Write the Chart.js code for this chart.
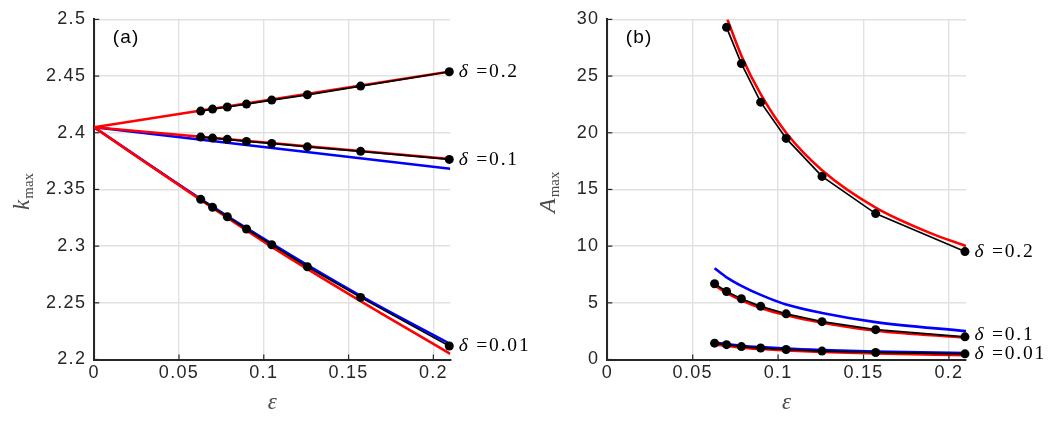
<!DOCTYPE html>
<html><head><meta charset="utf-8">
<script src="https://cdn.jsdelivr.net/npm/chart.js@4.4.0/dist/chart.umd.min.js"></script>
<style>
html,body{margin:0;padding:0;background:#fff;overflow:hidden;}
#wrap{position:relative;width:1048px;height:421px;background:#fff;}
.pane{position:absolute;top:0;height:421px;}
</style></head><body>
<div id="wrap">
<div class="pane" style="left:0;width:560px;z-index:1"><canvas id="c1" width="560" height="421"></canvas></div>
<div class="pane" style="left:524px;width:524px;z-index:2"><canvas id="c2" width="524" height="421"></canvas></div>
</div>
<script>
// ---------- shared x data ----------
const epsPoints = [0.0628, 0.0698, 0.0785, 0.0898, 0.1047, 0.1257, 0.1571, 0.2094];
const xTicks = [0, 0.05, 0.1, 0.15, 0.2];
const xTickLabels = ['0', '0.05', '0.1', '0.15', '0.2'];

// ---------- panel (a): k_max ----------
const kTicks = [2.2, 2.25, 2.3, 2.35, 2.4, 2.45, 2.5];
const kTickLabels = ['2.2', '2.25', '2.3', '2.35', '2.4', '2.45', '2.5'];
const kNum02  = [2.4191, 2.4209, 2.4227, 2.4253, 2.4288, 2.4335, 2.4412, 2.4538];
const kNum01  = [2.3962, 2.3953, 2.3942, 2.3924, 2.3906, 2.3876, 2.3836, 2.3765];
const kNum001 = [2.3413, 2.3342, 2.3259, 2.3151, 2.3012, 2.2818, 2.2548, 2.2119];
const kLineEps = [0, 0.21];
const kRed02  = [2.4048, 2.4540];
const kRed01  = [2.4048, 2.3768];
const kBlue01 = [2.4048, 2.3682];
const kRed001Eps = [0, 0.0615, 0.1047, 0.1687, 0.21];
const kRed001    = [2.4048, 2.3421, 2.2994, 2.2412, 2.2050];
const kBlue001Eps = [0, 0.0628, 0.1047, 0.1571, 0.21];
const kBlue001    = [2.4048, 2.3416, 2.3022, 2.2561, 2.2136];

// ---------- panel (b): A_max ----------
const aTicks = [0, 5, 10, 15, 20, 25, 30];
const aTickLabels = ['0', '5', '10', '15', '20', '25', '30'];
const aNum02Eps = [0.0698, 0.0785, 0.0898, 0.1047, 0.1257, 0.1571, 0.2094];
const aNum02  = [29.3, 26.1, 22.7, 19.5, 16.15, 12.87, 9.52];
const aNum01  = [6.68, 6.0, 5.36, 4.69, 4.03, 3.34, 2.63, 2.0];
const aNum001 = [1.44, 1.31, 1.14, 1.01, 0.88, 0.74, 0.62, 0.5];
const aRed02Eps = [0.0703, 0.0785, 0.0898, 0.1047, 0.1257, 0.1571, 0.19, 0.21];
const aRed02    = [30.0, 26.8, 23.4, 20.0, 16.7, 13.4, 11.1, 10.0];
const aCurveEps = [0.0628, 0.0698, 0.0785, 0.0898, 0.1047, 0.1257, 0.1571, 0.21];
const aRed01    = [6.55, 5.88, 5.22, 4.55, 3.9, 3.25, 2.55, 1.93];
const aBlue01   = [8.05, 7.25, 6.5, 5.7, 4.85, 4.1, 3.3, 2.5];
const aRed001   = [1.33, 1.21, 1.05, 0.92, 0.79, 0.66, 0.53, 0.38];
const aBlue001  = [1.48, 1.37, 1.22, 1.09, 0.96, 0.84, 0.71, 0.57];

const RED = '#ff0000', BLUE = '#0000ff', BLACK = '#000000';
const AXIS = '#262626';
const SANS = '"Liberation Sans", Arial, Helvetica, sans-serif';
const SERIF = '"Liberation Serif", "Times New Roman", serif';
const TICK_SPACING = '1.3px';

function pts(xs, ys) { return xs.map((x, i) => ({ x: x, y: ys[i] })); }
function curve(xs, ys, color, order, smooth) {
  return { data: pts(xs, ys), borderColor: color, backgroundColor: color, borderWidth: 2.6,
    pointRadius: 0, order: order, fill: false, tension: 0,
    cubicInterpolationMode: smooth ? 'monotone' : 'default' };
}
function numeric(xs, ys) {
  return { data: pts(xs, ys), borderColor: BLACK, backgroundColor: BLACK, borderWidth: 1.7,
    pointRadius: 4.5, pointBackgroundColor: BLACK, pointBorderWidth: 0, order: 1, clip: false, fill: false };
}

const annot = {
  id: 'annot',
  beforeUpdate(chart) { chart.ctx.letterSpacing = TICK_SPACING; },
  beforeLayout(chart) { chart.ctx.letterSpacing = TICK_SPACING; },
  beforeDraw(chart) { chart.ctx.letterSpacing = TICK_SPACING; },
  afterDraw(chart) {
    const o = chart.options.plugins.annot;
    const ctx = chart.ctx, xs = chart.scales.x, ys = chart.scales.y, ca = chart.chartArea;
    ctx.save();
    ctx.letterSpacing = '0px';
    // inward tick marks
    ctx.strokeStyle = AXIS; ctx.lineWidth = 1.2;
    xTicks.forEach(v => { const p = xs.getPixelForValue(v); ctx.beginPath(); ctx.moveTo(p, ca.bottom); ctx.lineTo(p, ca.bottom - 5); ctx.stroke(); });
    o.yTicks.forEach(v => { const p = ys.getPixelForValue(v); ctx.beginPath(); ctx.moveTo(ca.left, p); ctx.lineTo(ca.left + 5, p); ctx.stroke(); });
    // panel label
    ctx.fillStyle = '#000';
    ctx.textBaseline = 'middle'; ctx.textAlign = 'left';
    ctx.letterSpacing = '1.2px';
    ctx.font = '19px ' + SANS;
    ctx.fillText(o.panel, ca.left + 18.5, 38);
    // delta labels
    ctx.letterSpacing = '1.8px';
    o.deltas.forEach(d => {
      const px = xs.getPixelForValue(d.x) + 9.5;
      const py = ys.getPixelForValue(d.y) + (d.dy || 0);
      ctx.font = 'italic 19.5px ' + SERIF;
      ctx.fillText('\u03B4', px, py);
      const w = ctx.measureText('\u03B4').width;
      ctx.font = '19.5px ' + SERIF;
      ctx.fillText(' =' + d.v, px + w, py);
    });
    // x axis title (epsilon)
    ctx.letterSpacing = '0px';
    ctx.fillStyle = '#4a4a4a';
    ctx.textAlign = 'center'; ctx.textBaseline = 'alphabetic';
    ctx.font = 'italic 23px ' + SERIF;
    ctx.fillText('\u03B5', (ca.left + ca.right) / 2, 409);
    // y axis title
    ctx.save();
    ctx.translate(o.yTitleX, o.yTitleY);
    ctx.rotate(-Math.PI / 2);
    ctx.textAlign = 'left';
    ctx.font = 'italic ' + o.yTitleSize + 'px ' + SERIF;
    ctx.fillText(o.yTitle, 0, 0);
    const tw = ctx.measureText(o.yTitle).width;
    ctx.font = '15px ' + SERIF;
    ctx.fillText('max', tw + 1, 4);
    ctx.restore();
    ctx.restore();
  }
};

function makeScales(yMin, yMax, yT, yL, yWidth) {
  return {
    x: {
      type: 'linear', min: 0, max: 0.21,
      afterBuildTicks(s) { s.ticks = xTicks.map(v => ({ value: v })); },
      afterFit(s) { s.height = 421 - 359.5; },
      ticks: { callback: (v, i) => xTickLabels[i], color: AXIS, font: { family: SANS, size: 18 },
        padding: 3, maxRotation: 0, autoSkip: false },
      grid: { color: '#e1e1e1', lineWidth: 1.4, drawTicks: false },
      border: { color: AXIS, width: 2 }
    },
    y: {
      type: 'linear', min: yMin, max: yMax,
      afterBuildTicks(s) { s.ticks = yT.map(v => ({ value: v })); },
      afterFit(s) { s.width = yWidth; },
      ticks: { callback: (v, i) => yL[i], color: AXIS, font: { family: SANS, size: 18 },
        padding: 8, autoSkip: false },
      grid: { color: '#e1e1e1', lineWidth: 1.4, drawTicks: false },
      border: { color: AXIS, width: 2 }
    }
  };
}

function baseOptions(scales, pad, annotOpts) {
  return {
    responsive: false, animation: false,
    layout: { padding: pad },
    scales: scales,
    plugins: { legend: { display: false }, tooltip: { enabled: false }, annot: annotOpts }
  };
}

new Chart(document.getElementById('c1'), {
  type: 'line',
  data: { datasets: [
    curve(kLineEps, kBlue01, BLUE, 3, false),
    curve(kBlue001Eps, kBlue001, BLUE, 3, true),
    curve(kLineEps, kRed02, RED, 2, false),
    curve(kLineEps, kRed01, RED, 2, false),
    curve(kRed001Eps, kRed001, RED, 2, true),
    numeric(epsPoints, kNum02),
    numeric(epsPoints, kNum01),
    numeric(epsPoints, kNum001)
  ] },
  options: baseOptions(makeScales(2.2, 2.5, kTicks, kTickLabels, 94.2),
    { left: 0, top: 19.4, right: 560 - 450.3, bottom: 0 },
    { panel: '(a)', yTicks: kTicks, yTitle: 'k', yTitleSize: 23, yTitleX: 28.5, yTitleY: 210,
      deltas: [ { x: 0.2094, y: kNum02[7], v: '0.2' }, { x: 0.2094, y: kNum01[7], v: '0.1' }, { x: 0.2094, y: kNum001[7], v: '0.01' } ] }),
  plugins: [annot]
});

new Chart(document.getElementById('c2'), {
  type: 'line',
  data: { datasets: [
    curve(aCurveEps, aBlue01, BLUE, 3, true),
    curve(aCurveEps, aBlue001, BLUE, 3, true),
    curve(aRed02Eps, aRed02, RED, 2, true),
    curve(aCurveEps, aRed01, RED, 2, true),
    curve(aCurveEps, aRed001, RED, 2, true),
    numeric(aNum02Eps, aNum02),
    numeric(epsPoints, aNum01),
    numeric(epsPoints, aNum001)
  ] },
  options: baseOptions(makeScales(0, 30, aTicks, aTickLabels, 83.3),
    { left: 0, top: 19.4, right: 524 - 442, bottom: 0 },
    { panel: '(b)', yTicks: aTicks, yTitle: 'A', yTitleSize: 24, yTitleX: 555 - 524, yTitleY: 213,
      deltas: [ { x: 0.2094, y: aNum02[6], v: '0.2' }, { x: 0.2094, y: aNum01[7], v: '0.1', dy: -2 }, { x: 0.2094, y: aNum001[7], v: '0.01' } ] }),
  plugins: [annot]
});
</script>
</body></html>
